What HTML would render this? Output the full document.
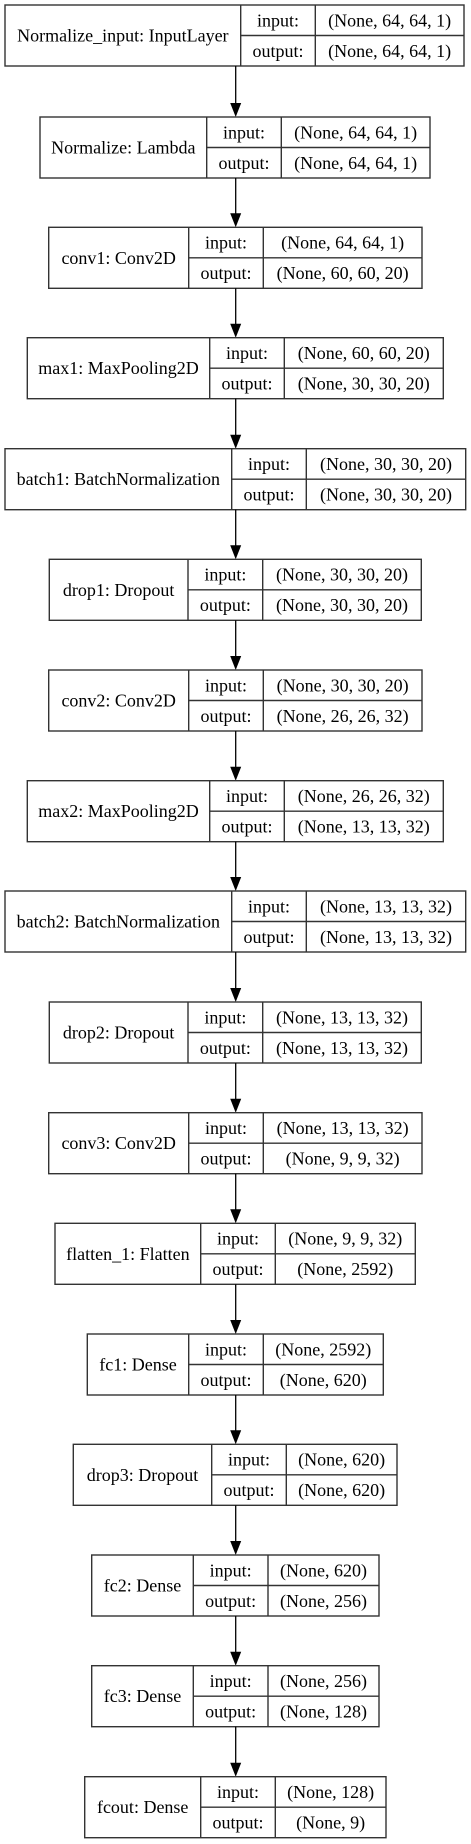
<!DOCTYPE html>
<html><head><meta charset="utf-8"><style>
html,body{margin:0;padding:0;background:#fff;}
svg{display:block;}
text{font-family:"Liberation Serif",serif;font-size:18px;fill:#000;}
</style></head><body>
<svg width="471" height="1844" viewBox="0 0 471 1844" xmlns="http://www.w3.org/2000/svg">
<g id="g"></g>
</svg>
<script>
const boxes=[
[5,5,464,240.7,315.3,"Normalize_input: InputLayer","(None, 64, 64, 1)","(None, 64, 64, 1)"],
[117,40,430,206.7,281.3,"Normalize: Lambda","(None, 64, 64, 1)","(None, 64, 64, 1)"],
[227.3,48.7,422,188.7,263.3,"conv1: Conv2D","(None, 64, 64, 1)","(None, 60, 60, 20)"],
[337.7,27.3,443.3,209.7,284.3,"max1: MaxPooling2D","(None, 60, 60, 20)","(None, 30, 30, 20)"],
[448.7,5,465.7,231.7,306.3,"batch1: BatchNormalization","(None, 30, 30, 20)","(None, 30, 30, 20)"],
[559.3,49.3,421.3,188,262.7,"drop1: Dropout","(None, 30, 30, 20)","(None, 30, 30, 20)"],
[670,48.7,422,188.7,263.3,"conv2: Conv2D","(None, 30, 30, 20)","(None, 26, 26, 32)"],
[780.7,27.3,443.3,209.7,284.3,"max2: MaxPooling2D","(None, 26, 26, 32)","(None, 13, 13, 32)"],
[891,5,465.7,231.7,306.3,"batch2: BatchNormalization","(None, 13, 13, 32)","(None, 13, 13, 32)"],
[1002,49.3,421.3,188,262.7,"drop2: Dropout","(None, 13, 13, 32)","(None, 13, 13, 32)"],
[1112.7,48.7,422,188.7,263.3,"conv3: Conv2D","(None, 13, 13, 32)","(None, 9, 9, 32)"],
[1223.3,55,415.3,200.7,275.3,"flatten_1: Flatten","(None, 9, 9, 32)","(None, 2592)"],
[1334,87.3,383.3,188.7,263.3,"fc1: Dense","(None, 2592)","(None, 620)"],
[1444.3,73.3,397,211.7,286.3,"drop3: Dropout","(None, 620)","(None, 620)"],
[1555,91.7,379,193.3,268,"fc2: Dense","(None, 620)","(None, 256)"],
[1665.7,91.7,379,193.3,268,"fc3: Dense","(None, 256)","(None, 128)"],
[1776.7,84.7,386,200.7,275.3,"fcout: Dense","(None, 128)","(None, 9)"]
];
const H=61,ax=235.7;let s="";
boxes.forEach((b,i)=>{
 const [y,x1,x2,s1,s2,lab,inp,out]=b;const m=y+H/2;
 s+=`<rect x="${x1}" y="${y}" width="${x2-x1}" height="${H}" fill="#fff" stroke="#333" stroke-width="1.4"/>`;
 s+=`<line x1="${s1}" y1="${y}" x2="${s1}" y2="${y+H}" stroke="#333" stroke-width="1.4"/>`;
 s+=`<line x1="${s2}" y1="${y}" x2="${s2}" y2="${y+H}" stroke="#333" stroke-width="1.4"/>`;
 s+=`<line x1="${s1}" y1="${m}" x2="${x2}" y2="${m}" stroke="#333" stroke-width="1.4"/>`;
 s+=`<text x="${(x1+s1)/2}" y="${m+6}" text-anchor="middle">${lab}</text>`;
 s+=`<text x="${(s1+s2)/2}" y="${y+H/4+6}" text-anchor="middle">input:</text>`;
 s+=`<text x="${(s1+s2)/2}" y="${y+3*H/4+6}" text-anchor="middle">output:</text>`;
 s+=`<text x="${(s2+x2)/2}" y="${y+H/4+6}" text-anchor="middle">${inp}</text>`;
 s+=`<text x="${(s2+x2)/2}" y="${y+3*H/4+6}" text-anchor="middle">${out}</text>`;
 if(i<boxes.length-1){const ny=boxes[i+1][0];
  s+=`<line x1="${ax}" y1="${y+H}" x2="${ax}" y2="${ny-12}" stroke="#000" stroke-width="1.3"/>`;
  s+=`<polygon points="${ax-5.5},${ny-14} ${ax+5.5},${ny-14} ${ax},${ny}" fill="#000"/>`;}
});
document.getElementById("g").innerHTML=s;
</script>
</body></html>
